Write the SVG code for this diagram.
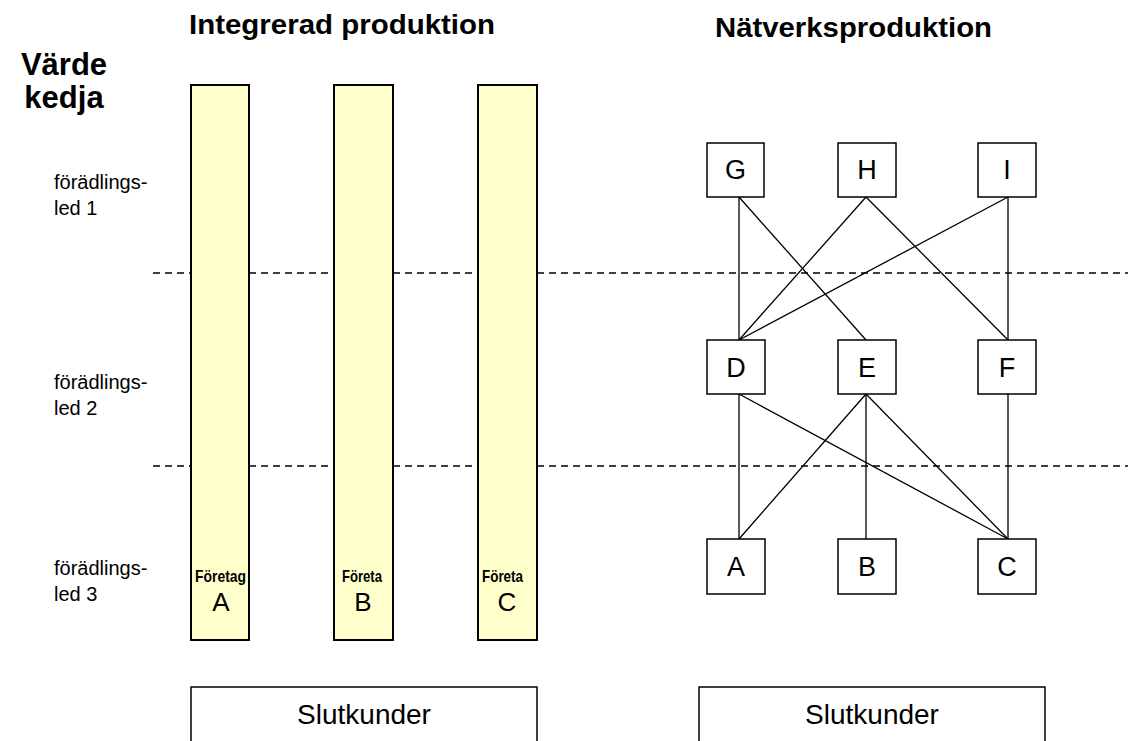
<svg xmlns="http://www.w3.org/2000/svg" width="1128" height="741" viewBox="0 0 1128 741">
<style>
  .t{font-family:"Liberation Sans",Arial,sans-serif;fill:#000}
  .b{font-weight:bold}
  .box{fill:#fff;stroke:#000;stroke-width:1.5}
  .bar{fill:#ffffcc;stroke:#000;stroke-width:2}
  .lbl{font-size:27px;text-anchor:middle}
  .side{font-size:20px}
  .dash{stroke:#000;stroke-width:1.3;stroke-dasharray:7,5;fill:none}
  .conn line{stroke:#000;stroke-width:1.3}
</style>
<rect width="1128" height="741" fill="#fff"/>
<g id="titles">
  <text class="t b" x="189" y="34" font-size="28" textLength="306" lengthAdjust="spacingAndGlyphs">Integrerad produktion</text>
  <text class="t b" x="715" y="37" font-size="28" textLength="277" lengthAdjust="spacingAndGlyphs">Nätverksproduktion</text>
  <text class="t b" x="64" y="75" font-size="31" text-anchor="middle">Värde</text>
  <text class="t b" x="64" y="108" font-size="31" text-anchor="middle">kedja</text>
</g>
<g id="steps">
  <text class="t side" x="54" y="189">förädlings-</text>
  <text class="t side" x="54" y="215">led 1</text>
  <text class="t side" x="54" y="389">förädlings-</text>
  <text class="t side" x="54" y="415">led 2</text>
  <text class="t side" x="54" y="575">förädlings-</text>
  <text class="t side" x="54" y="601">led 3</text>
</g>
<g id="dividers">
  <line class="dash" x1="153" y1="273" x2="1128" y2="273"/>
  <line class="dash" x1="153" y1="466" x2="1128" y2="466"/>
</g>
<g id="bar-A">
  <rect class="bar" x="191" y="85" width="58" height="555"/>
  <text class="t b" x="195" y="582" font-size="17" textLength="51" lengthAdjust="spacingAndGlyphs">Företag</text>
  <text class="t" x="221" y="611" font-size="26" text-anchor="middle">A</text>
</g>
<g id="bar-B">
  <rect class="bar" x="334" y="85" width="59" height="555"/>
  <text class="t b" x="342" y="582" font-size="17" textLength="40" lengthAdjust="spacingAndGlyphs">Företa</text>
  <text class="t" x="363" y="611" font-size="26" text-anchor="middle">B</text>
</g>
<g id="bar-C">
  <rect class="bar" x="478" y="85" width="59" height="555"/>
  <text class="t b" x="482" y="582" font-size="17" textLength="41" lengthAdjust="spacingAndGlyphs">Företa</text>
  <text class="t" x="507" y="611" font-size="26" text-anchor="middle">C</text>
</g>
<g class="conn" id="connectors">
  <line x1="739" y1="197" x2="739" y2="340"/>
  <line x1="739" y1="197" x2="866" y2="340"/>
  <line x1="866" y1="197" x2="739" y2="340"/>
  <line x1="866" y1="197" x2="1008" y2="340"/>
  <line x1="1008" y1="197" x2="739" y2="340"/>
  <line x1="1008" y1="197" x2="1008" y2="340"/>
  <line x1="739" y1="394" x2="739" y2="539"/>
  <line x1="739" y1="394" x2="1008" y2="539"/>
  <line x1="866" y1="394" x2="739" y2="539"/>
  <line x1="866" y1="394" x2="866" y2="539"/>
  <line x1="866" y1="394" x2="1008" y2="539"/>
  <line x1="1008" y1="394" x2="1008" y2="539"/>
</g>
<g id="node-G"><rect class="box" x="707" y="143" width="57" height="54"/><text class="t lbl" x="735.5" y="179">G</text></g>
<g id="node-H"><rect class="box" x="838" y="143" width="58" height="54"/><text class="t lbl" x="867" y="179">H</text></g>
<g id="node-I"><rect class="box" x="978" y="143" width="58" height="54"/><text class="t lbl" x="1007" y="179">I</text></g>
<g id="node-D"><rect class="box" x="707" y="340" width="58" height="54"/><text class="t lbl" x="736" y="377">D</text></g>
<g id="node-E"><rect class="box" x="838" y="340" width="58" height="54"/><text class="t lbl" x="867" y="377">E</text></g>
<g id="node-F"><rect class="box" x="978" y="340" width="58" height="54"/><text class="t lbl" x="1007" y="377">F</text></g>
<g id="node-A"><rect class="box" x="707" y="539" width="58" height="55"/><text class="t lbl" x="736" y="576">A</text></g>
<g id="node-B"><rect class="box" x="838" y="539" width="58" height="55"/><text class="t lbl" x="867" y="576">B</text></g>
<g id="node-C"><rect class="box" x="978" y="539" width="58" height="55"/><text class="t lbl" x="1007" y="576">C</text></g>
<g id="slut-left"><rect class="box" x="191" y="687" width="346" height="70"/><text class="t" x="364" y="724" font-size="28" text-anchor="middle">Slutkunder</text></g>
<g id="slut-right"><rect class="box" x="699" y="687" width="346" height="70"/><text class="t" x="872" y="724" font-size="28" text-anchor="middle">Slutkunder</text></g>
</svg>
